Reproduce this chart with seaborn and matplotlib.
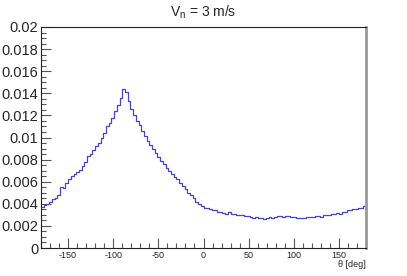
import numpy as np
import pandas as pd
import matplotlib
matplotlib.use("Agg")
import matplotlib.pyplot as plt
import seaborn as sns
from matplotlib.ticker import MultipleLocator

# histogram: 120 bins of 3 deg from -180 to 180
bin_edges = np.arange(-180, 181, 3)
counts = [
    0.0037, 0.0039, 0.0040, 0.0042, 0.0044, 0.0045, 0.0048, 0.0055, 0.0054, 0.0059,
    0.0062, 0.0065, 0.0067, 0.0069, 0.0071, 0.0074, 0.0078, 0.0083, 0.0085, 0.0089,
    0.0092, 0.0095, 0.0100, 0.0104, 0.0110, 0.0113, 0.0118, 0.0124, 0.0129, 0.0136,
    0.0144, 0.0141, 0.0133, 0.0126, 0.0120, 0.0115, 0.0111, 0.0106, 0.0101, 0.0097,
    0.0093, 0.0090, 0.0086, 0.0082, 0.0079, 0.0076, 0.0072, 0.0070, 0.0067, 0.0064,
    0.0062, 0.0059, 0.0056, 0.0053, 0.0050, 0.0048, 0.0045, 0.0042, 0.0040, 0.0038,
    0.0036, 0.0036, 0.0035, 0.0034, 0.0034, 0.0033, 0.0033, 0.0032, 0.0031, 0.0033,
    0.0031, 0.0031, 0.0030, 0.0030, 0.0030, 0.0029, 0.0029, 0.0028, 0.0027, 0.0028,
    0.0027, 0.0027, 0.0026, 0.0027, 0.0028, 0.0027, 0.0028, 0.0029, 0.0029, 0.0028,
    0.0029, 0.0029, 0.0028, 0.0028, 0.0027, 0.0027, 0.0027, 0.0027, 0.0028, 0.0028,
    0.0028, 0.0029, 0.0029, 0.0028, 0.0030, 0.0030, 0.0030, 0.0031, 0.0031, 0.0032,
    0.0031, 0.0033, 0.0033, 0.0034, 0.0034, 0.0035, 0.0035, 0.0036, 0.0036, 0.0038,
]
bin_centers = bin_edges[:-1] + 1.5
x_ticks = [-150, -100, -50, 0, 50, 100, 150]
y_ticks = [0, 0.002, 0.004, 0.006, 0.008, 0.01, 0.012, 0.014, 0.016, 0.018, 0.02]
y_tick_labels = ["0", "0.002", "0.004", "0.006", "0.008", "0.01",
                 "0.012", "0.014", "0.016", "0.018", "0.02"]

df = pd.DataFrame({"theta": bin_centers, "w": counts})

sns.set_style("ticks")
plt.rcParams["font.family"] = ["Liberation Sans", "DejaVu Sans"]

fig = plt.figure(figsize=(4.07, 2.76), dpi=100)
ax = fig.add_axes([41 / 407, 28 / 276, 325 / 407, 221 / 276])

sns.histplot(
    data=df,
    x="theta",
    weights="w",
    binwidth=3,
    binrange=(-180, 180),
    element="step",
    fill=False,
    color="#4646c8",
    linewidth=0.9,
    ax=ax,
)

ax.set_xlim(-180, 180)
ax.set_ylim(0, 0.02)
ax.set_xticks(x_ticks)
ax.set_xticklabels([str(t) for t in x_ticks], fontsize=6.5)
ax.set_yticks(y_ticks)
ax.set_yticklabels(y_tick_labels, fontsize=10.5)
ax.xaxis.set_minor_locator(MultipleLocator(10))
ax.yaxis.set_minor_locator(MultipleLocator(0.0005))
ax.tick_params(axis="both", which="major", direction="in", length=7, width=0.8, color="#555555")
ax.tick_params(axis="both", which="minor", direction="in", length=3.5, width=0.8, color="#555555")
ax.tick_params(axis="x", pad=2)
ax.tick_params(axis="y", pad=2)
ax.set_ylabel("")
ax.set_xlabel("θ [deg]", fontsize=6.5, loc="right", labelpad=0)

for side in ["left", "bottom", "top"]:
    ax.spines[side].set_color("#222222")
    ax.spines[side].set_linewidth(0.8)
ax.spines["right"].set_color("#999999")
ax.spines["right"].set_linewidth(2.0)

fig.text(0.5, 0.955, "V$_\\mathregular{n}$ = 3 m/s", ha="center", va="center", fontsize=10)

fig.savefig("out.png", dpi=100)
